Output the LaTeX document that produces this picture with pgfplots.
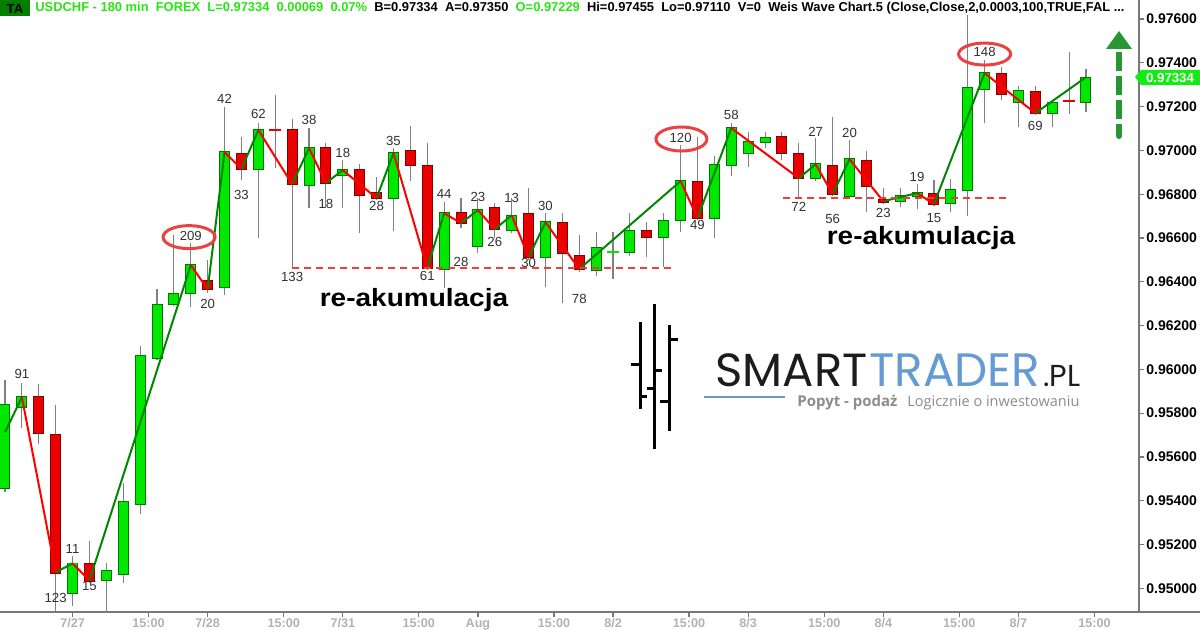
\documentclass[border=0pt]{standalone}
\usepackage{fontspec}
\setmainfont{Liberation Sans}
\newfontfamily\poppins{Poppins}
\newfontfamily\opensans{Open Sans}
\usepackage{graphicx}
\usepackage{pgfplots}
\pgfplotsset{compat=1.18}
\usepackage{pgfplotstable}
\newcommand{\fs}[1]{\fontsize{#1}{#1}\selectfont}
\definecolor{gfill}{RGB}{0,232,0}
\definecolor{gdark}{RGB}{0,120,0}
\definecolor{rfill}{RGB}{235,0,0}
\definecolor{rdark}{RGB}{130,0,0}
\definecolor{wickc}{RGB}{128,128,128}
\definecolor{waveg}{RGB}{0,135,0}
\definecolor{waver}{RGB}{255,0,0}
\definecolor{hdrg}{RGB}{40,230,20}
\definecolor{tabox}{RGB}{0,128,0}
\definecolor{labelgray}{RGB}{178,178,178}
\definecolor{axisgray}{RGB}{120,120,120}
\definecolor{ellred}{RGB}{235,65,65}
\definecolor{dashred}{RGB}{240,60,60}
\definecolor{arrowg}{RGB}{40,150,50}
\definecolor{tagg}{RGB}{20,235,20}
\definecolor{logoblue}{RGB}{100,155,210}
\definecolor{logodark}{RGB}{28,28,28}
\definecolor{taggray}{RGB}{140,140,140}
\definecolor{wl}{RGB}{50,50,50}

\pgfplotstableread{
i o h l c
0 0.95459 0.95952 0.95440 0.95838
1 0.95827 0.95941 0.95735 0.95873
4 0.94977 0.95150 0.94922 0.95114
6 0.95041 0.95114 0.94899 0.95082
7 0.95068 0.95480 0.95027 0.95393
8 0.95388 0.96106 0.95342 0.96060
9 0.96055 0.96366 0.96042 0.96293
10 0.96298 0.96613 0.96289 0.96343
11 0.96348 0.96576 0.96284 0.96476
13 0.96375 0.97198 0.96339 0.96992
15 0.96915 0.97125 0.96599 0.97093
18 0.96841 0.97102 0.96736 0.97010
20 0.96887 0.96956 0.96736 0.96910
23 0.96782 0.97010 0.96631 0.96988
26 0.96458 0.96768 0.96371 0.96713
28 0.96563 0.96782 0.96531 0.96727
30 0.96640 0.96782 0.96622 0.96704
32 0.96512 0.96713 0.96375 0.96672
35 0.96453 0.96627 0.96430 0.96553
37 0.96535 0.96713 0.96521 0.96631
39 0.96604 0.96713 0.96467 0.96677
40 0.96681 0.97024 0.96627 0.96860
42 0.96691 0.96974 0.96599 0.96933
43 0.96937 0.97125 0.96883 0.97102
44 0.96988 0.97084 0.96924 0.97038
45 0.97038 0.97084 0.97010 0.97056
48 0.96873 0.97056 0.96860 0.96937
50 0.96791 0.97047 0.96791 0.96960
53 0.96768 0.96828 0.96741 0.96791
54 0.96791 0.96846 0.96732 0.96805
56 0.96759 0.96868 0.96718 0.96819
57 0.96819 0.97618 0.96700 0.97285
58 0.97280 0.97413 0.97125 0.97353
60 0.97221 0.97294 0.97106 0.97271
62 0.97170 0.97230 0.97106 0.97216
64 0.97221 0.97372 0.97175 0.97334
}\greens

\pgfplotstableread{
i o h l c
2 0.95873 0.95932 0.95662 0.95708
3 0.95703 0.95836 0.94899 0.95073
5 0.95114 0.95219 0.95027 0.95036
12 0.96403 0.96503 0.96352 0.96366
14 0.96983 0.97061 0.96864 0.96915
17 0.97093 0.97143 0.96462 0.96846
19 0.97010 0.97033 0.96736 0.96851
21 0.96910 0.96937 0.96622 0.96796
22 0.96805 0.96878 0.96773 0.96782
24 0.96997 0.97111 0.96860 0.96933
25 0.96928 0.97033 0.96453 0.96462
27 0.96713 0.96782 0.96645 0.96668
29 0.96736 0.96759 0.96599 0.96640
31 0.96709 0.96828 0.96499 0.96512
33 0.96672 0.96713 0.96302 0.96531
34 0.96517 0.96613 0.96444 0.96458
38 0.96631 0.96672 0.96512 0.96604
41 0.96855 0.97061 0.96681 0.96691
46 0.97061 0.97084 0.96956 0.96988
47 0.96983 0.97033 0.96782 0.96873
49 0.96928 0.97152 0.96791 0.96800
51 0.96951 0.97001 0.96718 0.96837
52 0.96777 0.96828 0.96755 0.96768
55 0.96800 0.96864 0.96746 0.96755
59 0.97349 0.97381 0.97230 0.97257
61 0.97266 0.97294 0.97161 0.97170
}\reds

\pgfplotstableread{
i o h l c
16 0.97093 0.97253 0.96919 0.97093
36 0.96535 0.96627 0.96412 0.96535
63 0.97225 0.97449 0.97166 0.97225
}\dojis

\begin{document}
\begin{tikzpicture}
\useasboundingbox (0,0) rectangle (600pt,315pt);
\fill[white] (0,0) rectangle (600pt,315pt);
\begin{axis}[
  at={(0pt,9pt)}, anchor=south west,
  width=569.5pt, height=306pt, scale only axis,
  xmin=-0.296, xmax=67.14, ymin=0.94892, ymax=0.97687,
  axis x line*=bottom, axis y line*=right,
  axis line style={draw=axisgray, line width=0.75pt, -},
  tick align=outside, major tick length=2.5pt,
  tick style={draw=axisgray, line width=0.6pt},
  xtick={4,12,20,28,36,44,52,60},
  xticklabels={7/27,7/28,7/31,Aug,8/2,8/3,8/4,8/7},
  extra x ticks={8.5,16.5,24.5,32.5,40.5,48.5,56.5,64.5},
  extra x tick labels={15:00,15:00,15:00,15:00,15:00,15:00,15:00,15:00},
  x tick label style={font=\bfseries\fs{6.3}, text=labelgray, inner sep=0pt, yshift=-0.6pt},
  ytick={0.95,0.952,0.954,0.956,0.958,0.96,0.962,0.964,0.966,0.968,0.97,0.972,0.974,0.976},
  scaled y ticks=false,
  /pgf/number format/assume math mode=true,
  y tick label style={font=\bfseries\fs{7}, text=black, anchor=west, inner sep=0pt, xshift=1pt,
    /pgf/number format/.cd, fixed, fixed zerofill, precision=5},
  clip mode=individual,
  unbounded coords=jump,
]
% wicks
\addplot[draw=none, mark=none, forget plot, error bars/.cd, y dir=both, y explicit, error mark=none,
  error bar style={draw=wickc, line width=0.55pt}]
  table[x=i, y expr={(\thisrow{h}+\thisrow{l})/2}, y error expr={(\thisrow{h}-\thisrow{l})/2}] {\greens};
\addplot[draw=none, mark=none, forget plot, error bars/.cd, y dir=both, y explicit, error mark=none,
  error bar style={draw=wickc, line width=0.55pt}]
  table[x=i, y expr={(\thisrow{h}+\thisrow{l})/2}, y error expr={(\thisrow{h}-\thisrow{l})/2}] {\reds};
\addplot[draw=none, mark=none, forget plot, error bars/.cd, y dir=both, y explicit, error mark=none,
  error bar style={draw=wickc, line width=0.55pt}]
  table[x=i, y expr={(\thisrow{h}+\thisrow{l})/2}, y error expr={(\thisrow{h}-\thisrow{l})/2}] {\dojis};
% bodies: outline then fill
\addplot[draw=none, mark=none, forget plot, error bars/.cd, y dir=both, y explicit, error mark=none,
  error bar style={draw=gdark, line width=5.5pt, line cap=butt}]
  table[x=i, y expr={(\thisrow{o}+\thisrow{c})/2}, y error expr={abs(\thisrow{c}-\thisrow{o})/2+0.000045}] {\greens};
\addplot[draw=none, mark=none, forget plot, error bars/.cd, y dir=both, y explicit, error mark=none,
  error bar style={draw=gfill, line width=4.5pt, line cap=butt}]
  table[x=i, y expr={(\thisrow{o}+\thisrow{c})/2}, y error expr={abs(\thisrow{c}-\thisrow{o})/2}] {\greens};
\addplot[draw=none, mark=none, forget plot, error bars/.cd, y dir=both, y explicit, error mark=none,
  error bar style={draw=rdark, line width=5.5pt, line cap=butt}]
  table[x=i, y expr={(\thisrow{o}+\thisrow{c})/2}, y error expr={abs(\thisrow{c}-\thisrow{o})/2+0.000045}] {\reds};
\addplot[draw=none, mark=none, forget plot, error bars/.cd, y dir=both, y explicit, error mark=none,
  error bar style={draw=rfill, line width=4.5pt, line cap=butt}]
  table[x=i, y expr={(\thisrow{o}+\thisrow{c})/2}, y error expr={abs(\thisrow{c}-\thisrow{o})/2}] {\reds};
% doji dashes
\addplot[only marks, mark=-, mark size=3pt, mark options={draw=rfill, line width=0.9pt}] coordinates {(16,0.97093) (63,0.97225)};
\addplot[only marks, mark=-, mark size=3pt, mark options={draw=gfill, line width=0.9pt}] coordinates {(36,0.96535)};
% Weis wave line
\addplot[waveg, line width=1pt, mark=none] coordinates {
(0,0.95713)(1,0.95873)(1,nan)
(3,0.95073)(4,0.95114)(4,nan)
(5,0.95036)(11,0.96476)(11,nan)
(12,0.96366)(13,0.96992)(13,nan)
(14,0.96915)(15,0.97093)(15,nan)
(17,0.96846)(18,0.97010)(18,nan)
(19,0.96851)(20,0.96910)(20,nan)
(22,0.96782)(23,0.96988)(23,nan)
(25,0.96462)(26,0.96713)(26,nan)
(27,0.96668)(28,0.96727)(28,nan)
(29,0.96640)(30,0.96704)(30,nan)
(31,0.96512)(32,0.96672)(32,nan)
(34,0.96458)(40,0.96860)(40,nan)
(41,0.96691)(43,0.97102)(43,nan)
(47,0.96873)(48,0.96937)(48,nan)
(49,0.96800)(50,0.96960)(50,nan)
(52,0.96768)(54,0.96805)(54,nan)
(55,0.96755)(58,0.97353)(58,nan)
(61,0.97170)(64,0.97334)};
\addplot[waver, line width=1pt, mark=none] coordinates {
(1,0.95873)(3,0.95073)(3,nan)
(4,0.95114)(5,0.95036)(5,nan)
(11,0.96476)(12,0.96366)(12,nan)
(13,0.96992)(14,0.96915)(14,nan)
(15,0.97093)(17,0.96846)(17,nan)
(18,0.97010)(19,0.96851)(19,nan)
(20,0.96910)(22,0.96782)(22,nan)
(23,0.96988)(25,0.96462)(25,nan)
(26,0.96713)(27,0.96668)(27,nan)
(28,0.96727)(29,0.96640)(29,nan)
(30,0.96704)(31,0.96512)(31,nan)
(32,0.96672)(34,0.96458)(34,nan)
(40,0.96860)(41,0.96691)(41,nan)
(43,0.97102)(47,0.96873)(47,nan)
(48,0.96937)(49,0.96800)(49,nan)
(50,0.96960)(52,0.96768)(52,nan)
(54,0.96805)(55,0.96755)(55,nan)
(58,0.97353)(61,0.97170)};
% support lines
\draw[dashred, line width=1pt, dash pattern=on 3.5pt off 2.5pt] (axis cs:17,0.96462) -- (axis cs:39.55,0.96462);
\draw[dashred, line width=1pt, dash pattern=on 3.5pt off 2.5pt] (axis cs:46.06,0.96782) -- (axis cs:59.5,0.96782);
% ellipses
\draw[ellred, line width=1.5pt] (axis cs:10.9,0.96604) ellipse [x radius=13pt, y radius=5.75pt];
\draw[ellred, line width=1.5pt] (axis cs:40.05,0.97052) ellipse [x radius=12.75pt, y radius=6pt];
\draw[ellred, line width=1.5pt] (axis cs:58,0.97440) ellipse [x radius=13pt, y radius=5.5pt];
% wave volume labels
\begin{scope}[every node/.style={font=\fs{6.6}, text=wl, inner sep=0pt}]
\node at (axis cs:1,0.95978) {91};
\node at (axis cs:3,0.94954) {123};
\node at (axis cs:4,0.95182) {11};
\node at (axis cs:5,0.95009) {15};
\node at (axis cs:11,0.96608) {209};
\node at (axis cs:12,0.96298) {20};
\node at (axis cs:13,0.97234) {42};
\node at (axis cs:14,0.96796) {33};
\node at (axis cs:15,0.97166) {62};
\node at (axis cs:17,0.96421) {133};
\node at (axis cs:18,0.97138) {38};
\node at (axis cs:19,0.96755) {18};
\node at (axis cs:20,0.96988) {18};
\node at (axis cs:22,0.96745) {28};
\node at (axis cs:23,0.97042) {35};
\node at (axis cs:25,0.96426) {61};
\node at (axis cs:26,0.96800) {44};
\node at (axis cs:27,0.96489) {28};
\node at (axis cs:28,0.96787) {23};
\node at (axis cs:29,0.96581) {26};
\node at (axis cs:30,0.96782) {13};
\node at (axis cs:31,0.96485) {30};
\node at (axis cs:32,0.96745) {30};
\node at (axis cs:34,0.96320) {78};
\node at (axis cs:40,0.97056) {120};
\node at (axis cs:41,0.96659) {49};
\node at (axis cs:43,0.97161) {58};
\node at (axis cs:47,0.96741) {72};
\node at (axis cs:48,0.97084) {27};
\node at (axis cs:49,0.96686) {56};
\node at (axis cs:50,0.97079) {20};
\node at (axis cs:52,0.96713) {23};
\node at (axis cs:54,0.96878) {19};
\node at (axis cs:55,0.96692) {15};
\node at (axis cs:58,0.97449) {148};
\node at (axis cs:61,0.97111) {69};
\end{scope}
\end{axis}
% ---------- overlay in pixel coordinates (origin top-left) ----------
\begin{scope}[x=0.5pt, y=-0.5pt, shift={(0pt,315pt)}]
% axis line continuation
\draw[axisgray, line width=0.75pt] (1139,612) -- (1200,612);
% header
\fill[tabox] (0,0) rectangle (30,16);
\node[font=\bfseries\fs{6.6}, inner sep=0pt] at (15,8.5) {TA};
\node[anchor=west, inner sep=0pt, font=\bfseries\fs{6.45}] at (35,8.5) {%
\textcolor{hdrg}{USDCHF - 180 min\hspace{3.6pt}FOREX\hspace{3.6pt}L=0.97334\hspace{3.6pt}0.00069\hspace{3.6pt}0.07\%}\hspace{3.6pt}%
B=0.97334\hspace{3.6pt}A=0.97350\hspace{3.6pt}\textcolor{hdrg}{O=0.97229}\hspace{3.6pt}%
Hi=0.97455\hspace{3.6pt}Lo=0.97110\hspace{3.6pt}V=0\hspace{3.6pt}Weis Wave Chart.5 (Close,Close,2,0.0003,100,TRUE,FAL ...};
% last price tag
\fill[tagg] (1135,77) -- (1141,70) -- (1200,70) -- (1200,85) -- (1141,85) -- cycle;
\node[font=\bfseries\fs{6.6}, text=white, inner sep=0pt] at (1170,77.5) {0.97334};
% green dashed arrow
\draw[arrowg, line width=3pt, line cap=butt, dash pattern=on 9.5pt off 2.5pt] (1119,52) -- (1119,136);
\fill[arrowg] (1119,136) circle (1.5pt);
\fill[arrowg] (1106,49) -- (1132,49) -- (1119,31) -- cycle;
% re-akumulacja labels
\node[font=\bfseries\fs{12.5}, inner sep=0pt] at (414,300) {\scalebox{1.12}[1]{re-akumulacja}};
\node[font=\bfseries\fs{12.5}, inner sep=0pt] at (921,238) {\scalebox{1.12}[1]{re-akumulacja}};
% logo icon
\begin{scope}[line width=1.5pt, black]
\draw (640,322) -- (640,409);
\draw (631,365) -- (640,365);
\draw (640,397) -- (647,397);
\draw (654,304) -- (654,449);
\draw (654,371) -- (662,371);
\draw (647,389) -- (654,389);
\draw (669,325) -- (669,431);
\draw (669,340) -- (678,340);
\draw (660,402) -- (669,402);
\end{scope}
% logo text
\node[anchor=base west, inner sep=0pt, text=logodark] at (715,387) {\resizebox{76pt}{!}{\poppins SMART}};
\node[anchor=base west, inner sep=0pt, text=logoblue] at (869,387) {\resizebox{85.5pt}{!}{\poppins TRADER}};
\node[anchor=base west, inner sep=0pt, text=logodark] at (1043,387) {\resizebox{18.5pt}{!}{\poppins .PL}};
\draw[logoblue, line width=0.8pt] (704,397) -- (785,397);
\node[anchor=base west, inner sep=0pt, text=taggray] at (797,407) {\resizebox{50pt}{!}{\opensans\bfseries Popyt - podaż}};
\node[anchor=base west, inner sep=0pt, text=taggray] at (907,407) {\resizebox{86pt}{!}{\opensans Logicznie o inwestowaniu}};
\end{scope}
\end{tikzpicture}
\end{document}
